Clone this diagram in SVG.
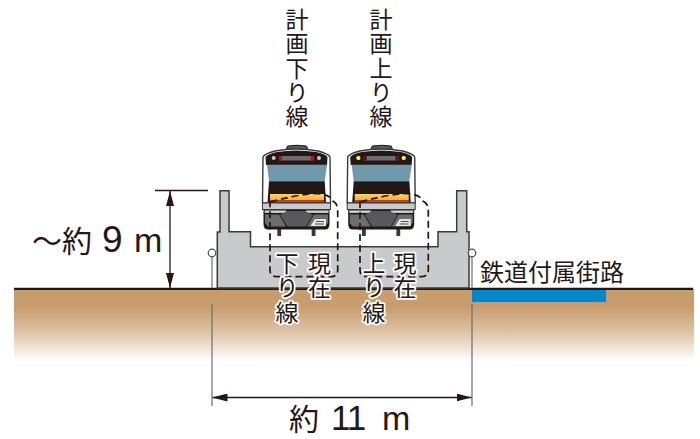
<svg xmlns="http://www.w3.org/2000/svg" width="700" height="439" viewBox="0 0 700 439">
<style>
.cjk{font-family:"Noto Sans CJK JP","Liberation Sans",sans-serif;fill:#231815}
.lat{font-family:"Liberation Sans",sans-serif;fill:#231815}
.v{writing-mode:vertical-rl;font-size:23px;letter-spacing:1.2px}
.h{paint-order:stroke;stroke:#fff;stroke-width:3.5px;stroke-linejoin:round}
.dash{fill:none;stroke:#231815;stroke-width:1.7;stroke-dasharray:7 4}
.dim{stroke:#231815;stroke-width:1.3;fill:none}
.tick{stroke:#6d6e70;stroke-width:1.2;fill:none}
.pole{fill:#fff;stroke:#4d4d4f;stroke-width:1.2}
</style>
<defs>
<linearGradient id="soil" x1="0" y1="0" x2="0" y2="1"><stop offset="0" stop-color="#c99c6d"/><stop offset="0.25" stop-color="#c99c6d"/><stop offset="0.6" stop-color="#dfc3a6"/><stop offset="1" stop-color="#fff"/></linearGradient>
<linearGradient id="amber" x1="0" y1="0" x2="0" y2="1"><stop offset="0" stop-color="#fed466"/><stop offset="1" stop-color="#fbad27"/></linearGradient>
<marker id="arr" markerWidth="15" markerHeight="8" refX="15" refY="4" orient="auto-start-reverse" markerUnits="userSpaceOnUse"><path d="M0,0L15,4L0,8Z" fill="#231815"/></marker>
<g id="train">
<path d="M286,150 L287.500,146 Q297,144.500 306.500,146 L308,150Z" fill="#58595b" stroke="#231815" stroke-width="1"/>
<path d="M263,157 Q264,154 275,151 Q296,147 318,151 Q329,154 330,157 L330.500,203 L262.500,203Z" fill="#fff" stroke="#3a3a3c" stroke-width="1.400"/>
<path d="M266,165 L265.500,157 Q268,154 277,152 Q296,149 316,152 Q325,154 327.500,157 L327,165Z" fill="#231815"/>
<circle cx="273.700" cy="158" r="2" fill="#c9cacc"/><circle cx="319" cy="158" r="2" fill="#c9cacc"/>
<rect x="279" y="156" width="34.700" height="4.500" fill="#6d6e70"/>
<path d="M267,164.700H327L324.700,181.300H269Z" fill="#7199ad"/>
<path d="M269,181.300H324.700L326,202.500H267.500Z" fill="#231815"/>
<rect x="270" y="194" width="54" height="6.400" fill="url(#amber)"/>
<rect x="270" y="200.200" width="54" height="1.800" fill="#d9381e"/>
<rect x="277.300" y="228" width="3.800" height="8" fill="#3a3a3c"/><rect x="311.700" y="228" width="3.800" height="8" fill="#3a3a3c"/>
<path d="M263.500,209H329.500V224Q329.500,229.500 325,229.500H268Q263.500,229.500 263.500,224Z" fill="#231815"/>
<rect x="262.500" y="203" width="68" height="6.500" fill="#c9cacc" stroke="#3a3a3c" stroke-width="1"/>
<rect x="264.700" y="210.500" width="21.500" height="2.400" fill="#d1d3d4"/>
<rect x="306" y="210.500" width="22.500" height="2.400" fill="#d1d3d4"/>
<path d="M265,214.500H279L286,226.500H268L265,223Z" fill="#6d6e70"/>
<path d="M328,214.500H314L307,226.500H325L328,223Z" fill="#6d6e70"/>
<path d="M280,215L287,211H305L313,215L306,226.500H287.500Z" fill="#58595b"/>
<path d="M315,219H326V226H310.500Z" fill="#e6e7e8"/>
<path d="M316,221.500H324M315,224H324" stroke="#4d4d4f" stroke-width="1"/>
</g>
</defs>
<g id="ground">
<rect x="14" y="289" width="680" height="72" fill="url(#soil)"/>
<rect id="road" x="472" y="290" width="134" height="12" fill="#0087cd"/>
<path d="M14,288.800H693" stroke="#231815" stroke-width="2.200"/>
</g>
<g id="viaduct">
<path d="M217.300,288V232H220V190.700H229V231.700H250.500V246.700H438V231.700H456.700V190.700H466.700V231.700H469V288Z" fill="#c9cacc" stroke="#3a3a3c" stroke-width="1.500"/>
<path d="M212,257V288M472,257V288" class="tick"/>
<circle cx="212" cy="253" r="3.800" class="pole"/><circle cx="472" cy="253" r="3.800" class="pole"/>
</g>
<g id="train-down"><use href="#train"/><rect x="279" y="156" width="3" height="4.500" fill="#e60012"/><rect x="310.700" y="156" width="3" height="4.500" fill="#e60012"/></g>
<g id="train-up"><use href="#train" x="84.700"/><circle cx="358.400" cy="158" r="2" fill="#fff04f"/><circle cx="403.700" cy="158" r="2" fill="#fff04f"/><rect x="363.700" y="156" width="3" height="4.500" fill="#6a0a0f"/><rect x="395.400" y="156" width="3" height="4.500" fill="#6a0a0f"/></g>
<g id="connectors">
<path class="dash" d="M270,202 Q295,195 315,193.500 Q330,194 333,201 Q337.700,204 337.700,210V270Q337.700,276.700 331,276.700H277Q270,276.700 270,270Z"/>
<path class="dash" d="M360,202 Q385,195 405,193.500 Q420,194 423,201 Q428.300,204 428.300,210V270Q428.300,276.700 421,276.700H367Q360,276.700 360,270Z"/>
<path class="dim" d="M155,190.500H208"/>
<path class="dim" d="M170,191V288" marker-start="url(#arr)" marker-end="url(#arr)"/>
<path class="tick" d="M212,304V406M472,304V406"/>
<path class="dim" d="M212.500,397.500H471.500" marker-start="url(#arr)" marker-end="url(#arr)"/>
</g>
<g id="labels">
<text class="cjk v" x="297" y="8">計画下り線</text>
<text class="cjk v" x="381" y="8">計画上り線</text>
<text class="cjk v h" x="319.500" y="252">現在</text>
<text class="cjk v h" x="287" y="252">下り線</text>
<text class="cjk v h" x="405" y="252">現在</text>
<text class="cjk v h" x="374" y="252">上り線</text>
<text class="cjk" x="32" y="252" font-size="30">〜</text>
<text class="cjk" x="62" y="252" font-size="30">約</text>
<text class="lat" x="102" y="252" font-size="37">9</text>
<text class="lat" x="134" y="252" font-size="34">m</text>
<text class="cjk" x="289" y="430" font-size="30">約</text>
<text class="lat" x="331" y="430" font-size="35" letter-spacing="-1">11</text>
<text class="lat" x="382" y="430" font-size="34">m</text>
<text class="cjk" x="480" y="281" font-size="24">鉄道付属街路</text>
</g>
</svg>
